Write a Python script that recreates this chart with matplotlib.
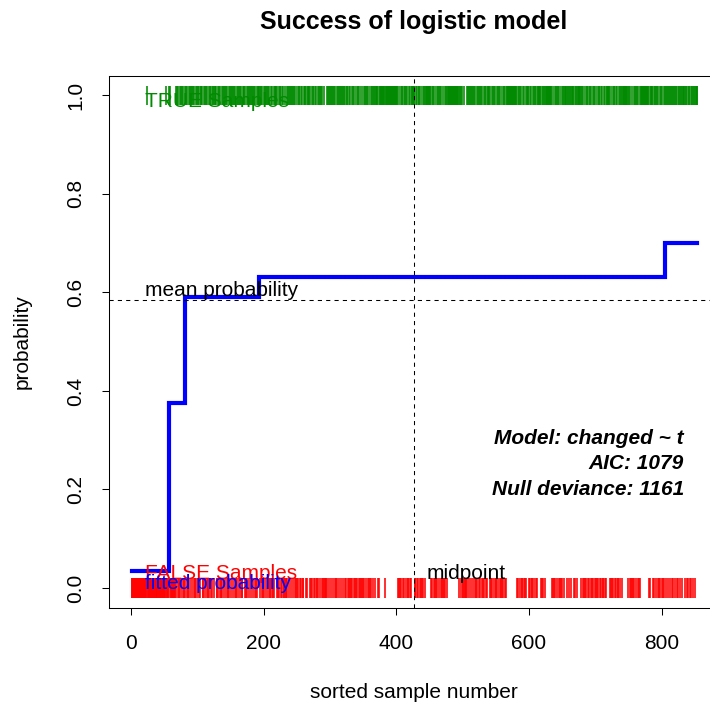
import matplotlib
matplotlib.use("Agg")
import matplotlib.pyplot as plt

plt.rcParams["font.family"] = ["Liberation Sans", "DejaVu Sans"]

# Observed outcome for each sample, in sorted order (run-length coded: T=TRUE, F=FALSE)
outcome_runs = """
F23 T1 F28 T1 F3
F1 T2 F8 T1 F1 T2 F2 T1 F1 T2 F1 T1 F2
T2 F1 T1 F2 T3 F1  T1 F1 T2 F2 T1 F1 T2  F1 T1 F1 T3 F2 T1 F1  T2 F1 T1 F2 T2 F1 T1
F1 T2 F1 T3 F2 T1  F1 T2 F2 T1 F1 T2 F1  T1 F1 T2 F2 T2 F1 T1  F1 T3 F1 T1 F2 T2
F1 T1 F1 T2 F2 T3  F1 T1 F2 T2 F1 T2 F1  T2 F1 T2 F1 T1 F2 T2
T2 F1 T1 F1 T1 F2 T2  T1 F1 T2 F1 T1 F2 T1 F1  T1 F1 T1 F1 T3 F1 T1 F1
F1 T2 F1 T1 F1 T1 F2 T1  F2 T1 F1 T2 F1 T1 F1 T1  T1 F1 T2 F1 T1 F2 T1 F1
T2 F1 T1 F1 T1 F2 T2  T1 F1 T1 F1 T3 F1 T1 F1  F1 T2 F1 T1 F1 T1 F2 T1
T1 F1 T2 F1 T1 F2 T1 F1  F2 T1 F1 T2 F1 T1 F1 T1  T2 F1 T1 F1 T1 F2 T2
T1 F1 T1 F1 T3 F1 T1 F1  T1 F1 T2 F1 T1 F2 T1 F1  F1 T2 F1 T1 F1 T1 F2 T1  T1 F1 T1 F1
F1 T1 F2 T1 F1 T2 F1 T1 F1 T1 F2 T1 F1 T2 F1
T1  T1 F1 T1  T2  F1 T1 F1 T1  T6  T1 F1 T1  T17
F1 T1 F2 T1 F1 T2 F1 T1 F1 T1 F1 T2 F2 T1 F1 T1 F1 T1
T4
F2 T1 F1 T1 F1 T2 F1 T1 F2 T1 F1 T1 F1 T1
T7
F1 T1 F1 T2 F1 T1 F2 T1 F1 T1 F1 T2 F1 T1 F1 T1 F2 T1 F1 T1 F1
T17
T1 F1 T2 F1 T1 F2 T1 F1  F2 T1 F1 T2 F1 T1 F1 T1  T2 F1 T1 F1 T1 F2 T2
F1 T2 F1 T1 F1 T1 F2 T1  T1 F1 T1 F1 T3 F1 T1 F1  T1 F1 T2 F1 T1 F2 T1 F1
T2 F1 T1 F1 T1 F2 T2  F1 T1 F1 T1
T14
F1 T1 F1 T2 F1 T1 F2 T1 F1 T1 F1 T1 F1 T1
T2  F1 T1 F1 T1 F2  T1 F1 T2 F1 T1 F1  T5  F1 T1 F1 T1 F1 T1 F1  T10
F1 T1 F2 T1 F1 T2 F1 T1 F1 T1 F2 T1 F1 T2 F1
T4  F1 T1 F1 T2 F1 T1  T3  F1 T1 F1 T1 F1 T1  T5
F1 T1 F1 T1 F2 T1 F1 T2 F1 T1 F1 T1 F1 T1 F1
T1
F1 T1 F1 T1 F2 T1 F1 T2 F1 T1 F1 T1 F2 T1 F1 T1 F1 T1
T4
F1 T1 F2 T1 F1 T2 F1 T1 F1 T1 F2 T1 F1 T2 F1
T8
F1 T2 F1 T1 F1 T1 F2 T1 F1 T1 F1 T2 F1 T1 F1 T1 F1 T1
T11  F1 T1 F1 T1  T2
F1 T1 F1 T1 F1 T2 F1 T1 F1 T1 F1 T1 F1 T1 F1
T1 F1 T1  T1
F1 T2 F1 T1 F1 T2 F1 T1 F1 T2 F1 T2 F1 T1 F1 T2 F1 T1 T1 F1
T3
F1 T2 F1 T1 F1 T2 F1 T1 F1 T2 F1 T1 F1 T1
T3
"""

# Fitted probability: constant within each group of sorted samples
group_start = [1, 57, 82, 193, 805]
group_prob = [0.035, 0.375, 0.59, 0.632, 0.70]

mean_prob = 0.585
model_text = ["Model: changed ~ t", "AIC: 1079", "Null deviance: 1161"]

x_ticks = [0, 200, 400, 600, 800]
y_ticks = [0.0, 0.2, 0.4, 0.6, 0.8, 1.0]

# expand run-length coding
outcome = []
for tok in outcome_runs.split():
    outcome += [tok[0] == "T"] * int(tok[1:])
n = len(outcome)
idx = list(range(1, n + 1))
true_idx = [i for i, o in zip(idx, outcome) if o]
false_idx = [i for i, o in zip(idx, outcome) if not o]
midpoint = n / 2

fig = plt.figure(figsize=(7.10, 7.09), dpi=100)
W, H = 710, 709
ax = fig.add_axes([109 / W, (H - 607.7) / H, 611 / W, 532 / H])
ax.set_xlim(1 - 0.04 * (n - 1), n + 0.04 * (n - 1))
ax.set_ylim(-0.04, 1.04)

green = "#008B00"
red = "#FF0000"
blue = "#0000FF"
FS = 15

# rugs of observed outcomes
ax.vlines(true_idx, 1 - 0.02, 1 + 0.02, color=green, lw=1.15)
ax.vlines(false_idx, -0.02, 0.02, color=red, lw=1.15)

# fitted probability as a step line
xs = group_start + [n]
ys = group_prob + [group_prob[-1]]
ax.step(xs, ys, where="post", color=blue, lw=3.0, solid_joinstyle="miter")

ax.axhline(mean_prob, color="black", lw=0.75, ls=(0, (4, 4)))
ax.axvline(midpoint, color="black", lw=0.75, ls=(0, (4, 4)))

ax.text(21, 0.976, "TRUE Samples", color=green, va="baseline", fontsize=FS)
ax.text(21, 0.018, "FALSE Samples", color=red, va="baseline", fontsize=FS)
ax.text(21, -0.002, "fitted probability", color=blue, va="baseline", fontsize=FS)
ax.text(21, mean_prob + 0.008, "mean probability", color="black", va="baseline",
        fontsize=FS)
ax.text(midpoint + 19, 0.018, "midpoint", color="black", va="baseline", fontsize=FS)

for k, line in enumerate(model_text):
    ax.text(834, 0.293 - 0.052 * k, line, ha="right", va="baseline",
            fontsize=FS, fontweight="bold", fontstyle="italic")

ax.set_xticks(x_ticks)
ax.set_xticklabels([str(v) for v in x_ticks])
ax.set_yticks(y_ticks)
ax.set_yticklabels([f"{v:.1f}" for v in y_ticks], rotation=90, va="center")
ax.tick_params(axis="both", direction="out", length=5, width=0.75,
               labelsize=FS, color="black")
ax.tick_params(axis="x", pad=14)
ax.tick_params(axis="y", pad=12)
for s in ax.spines.values():
    s.set_linewidth(0.75)
    s.set_color("black")

fig.text(414 / W, 1 - 22 / H, "Success of logistic model", ha="center", va="center",
         fontsize=18, fontweight="bold")
fig.text(414 / W, 1 - 692 / H, "sorted sample number", ha="center", va="center",
         fontsize=FS)
fig.text(22 / W, 1 - 341.7 / H, "probability", ha="center", va="center",
         rotation=90, fontsize=FS)

fig.savefig("out.png", dpi=100)
